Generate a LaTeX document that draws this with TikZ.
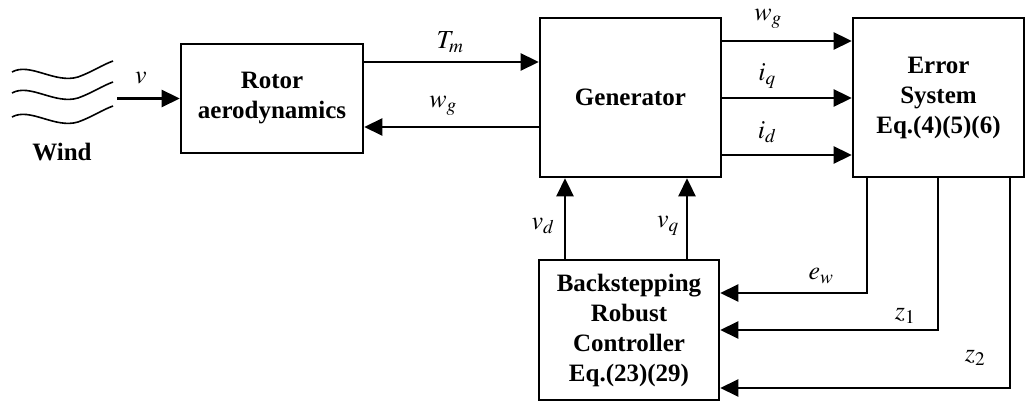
\documentclass[tikz,border=0pt]{standalone}
\usepackage{mathptmx}
\usepackage{fontspec}
\setmainfont{Liberation Serif}
\usetikzlibrary{arrows.meta}
\tikzset{
  box/.style={draw, line width=2.6pt, align=center, inner sep=0pt,
    font=\bfseries\fontsize{25}{30}\selectfont},
  arr/.style={line width=2.6pt, -{Triangle[length=18pt,width=17pt]}},
  lbl/.style={inner sep=0pt, font=\fontsize{26}{28}\selectfont},
  wave/.style={line width=1.6pt}
}
\begin{document}
\begin{tikzpicture}[x=1pt,y=-1pt]
\useasboundingbox (0,0) rectangle (1028,403);
% boxes
\node[box, minimum width=182pt, minimum height=109pt] (rotor) at (272,98.5) {Rotor\\aerodynamics};
\node[box, minimum width=181pt, minimum height=159pt] (gen) at (630.5,97.5) {Generator};
\node[box, minimum width=171pt, minimum height=159pt] (err) at (938.5,97.5) {Error\\System\\Eq.(4)(5)(6)};
\node[box, minimum width=180pt, minimum height=140pt] (ctrl) at (629,330) {Backstepping\\Robust\\Controller\\Eq.(23)(29)};
% wind
\foreach \y in {72,93,117}{
  \draw[wave] (12,\y) .. controls (30,\y-10) and (55,\y+12) .. (78,\y+5) .. controls (92,\y) and (102,\y-7) .. (113,\y-11);
}
\node[inner sep=0pt, font=\bfseries\fontsize{25}{30}\selectfont] (wind) at (62,152) {Wind};
\coordinate (w0) at (117,98.5);
\draw[arr] (w0) -- (rotor.west);
\node[lbl] (lv) at (141,78) {$v$};
% rotor <-> generator
\draw[arr] (rotor.east |- 0,62) -- (gen.west |- 0,62);
\node[lbl] (lTm) at (450,42) {$T_m$};
\draw[arr] (gen.west |- 0,127) -- (rotor.east |- 0,127);
\node[lbl] (lwg1) at (443,106) {$w_g$};
% generator -> error
\draw[arr] (gen.east |- 0,41) -- (err.west |- 0,41);
\node[lbl] (lwg2) at (768,19) {$w_g$};
\draw[arr] (gen.east |- 0,98) -- (err.west |- 0,98);
\node[lbl] (liq) at (767,76) {$i_q$};
\draw[arr] (gen.east |- 0,155) -- (err.west |- 0,155);
\node[lbl] (lid) at (767,132) {$i_d$};
% controller -> generator
\draw[arr] (ctrl.north -| 565,0) -- (gen.south -| 565,0);
\node[lbl] (lvd) at (543,226) {$v_d$};
\draw[arr] (ctrl.north -| 687,0) -- (gen.south -| 687,0);
\node[lbl] (lvq) at (668,226) {$v_q$};
% feedback
\draw[arr] (err.south -| 867,0) |- (ctrl.east |- 0,293);
\node[lbl] (lew) at (821,276) {$e_w$};
\draw[arr] (err.south -| 938,0) |- (ctrl.east |- 0,330);
\node[lbl] (lz1) at (905,316) {$z_1$};
\draw[arr] (err.south -| 1010,0) |- (ctrl.east |- 0,388);
\node[lbl] (lz2) at (975,358) {$z_2$};
\end{tikzpicture}
\end{document}
